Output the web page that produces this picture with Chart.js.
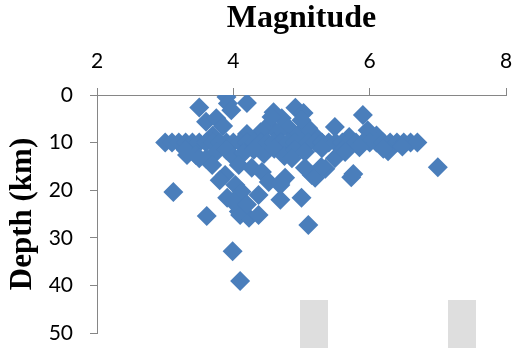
<!DOCTYPE html>
<html>
<head>
<meta charset="utf-8">
<script src="https://cdn.jsdelivr.net/npm/chart.js@4/dist/chart.umd.min.js"></script>
<style>
  html, body { margin: 0; padding: 0; background: #fff; }
  #wrap { width: 516px; height: 348px; position: relative; }
</style>
</head>
<body>
<div id="wrap"><canvas id="c" width="516" height="348"></canvas></div>
<script>
// Earthquake catalogue: magnitude vs. focal depth (km)
const magnitude = [
  // shallow events above the 10 km band
  3.90, 3.92, 3.97, 3.50, 4.20, 3.60, 3.75, 3.85, 4.59, 4.71, 4.91, 5.03, 4.81,
  4.52, 4.40, 5.49, 5.90, 5.97, 4.20, 3.70, 4.95, 5.20, 5.70, 6.10, 4.65, 5.10,
  4.56, 5.00,
  // events fixed at 10 km
  3.0, 3.1, 3.2, 3.3, 3.4, 3.5, 3.6, 3.7, 3.8, 3.9, 4.0, 4.1, 4.2, 4.3, 4.4,
  4.5, 4.6, 4.7, 4.8, 4.9, 5.0, 5.1, 5.2, 5.3, 5.4, 5.5, 5.6, 5.7, 5.8, 5.9,
  6.0, 6.1, 6.2, 6.3, 6.4, 6.5, 6.6, 6.7,
  // events just below the band
  3.30, 3.45, 3.60, 3.75, 3.90, 4.00, 4.15, 4.30, 4.45, 4.60, 4.75, 4.90, 5.05,
  5.30, 5.60, 5.85, 6.27, 6.48, 6.20, 5.49, 5.64, 4.86, 3.50, 3.69, 4.08, 4.27,
  3.88, 4.42, 3.32,
  // deeper events
  7.00, 5.76, 5.73, 5.35, 5.15, 5.05, 5.20, 4.76, 4.52, 4.69, 3.80, 4.03, 3.91,
  4.12, 4.37, 4.69, 5.00, 3.12, 3.61, 4.10, 4.23, 4.37, 4.08, 5.10, 3.99, 4.10,
  4.00, 4.20, 5.29, 4.69
];
const depthKm = [
  0.4, 1.8, 3.2, 2.6, 1.7, 5.6, 4.9, 6.5, 3.6, 4.9, 2.7, 3.8, 6.9,
  6.3, 7.8, 6.7, 4.2, 7.4, 8.2, 8.5, 8.4, 8.6, 8.8, 8.5, 8.0, 7.0,
  4.6, 5.3,
  10, 10, 10, 10, 10, 10, 10, 10, 10, 10, 10, 10, 10, 10, 10,
  10, 10, 10, 10, 10, 10, 10, 10, 10, 10, 10, 10, 10, 10, 10,
  10, 10, 10, 10, 10, 10, 10, 10,
  11.5, 12.6, 13.4, 12.0, 11.6, 13.0, 12.2, 11.5, 12.4, 11.3, 12.8, 11.5, 12.0,
  11.2, 11.5, 11.0, 11.8, 10.8, 11.3, 13.3, 12.0, 13.3, 13.3, 14.7, 14.7, 15.3,
  16.8, 16.2, 12.6,
  15.2, 16.6, 17.3, 15.5, 16.8, 15.3, 17.4, 17.4, 18.3, 18.9, 17.9, 18.9, 21.6,
  20.3, 21.0, 22.0, 21.6, 20.4, 25.4, 25.2, 25.8, 25.2, 24.5, 27.3, 32.8, 39.1,
  22.5, 23.0, 15.1, 18.5
];
const magnitudeTicks = [2, 4, 6, 8];
const depthTicks = [0, 10, 20, 30, 40, 50];

const points = magnitude.map((m, i) => ({ x: m, y: depthKm[i] }));

const AXIS_GREY = '#868686';
const MARKER = '#4A7EBB';

// light grey blocks along the bottom edge
const footerBlocks = {
  id: 'footerBlocks',
  afterDraw(chart) {
    const ctx = chart.ctx;
    ctx.save();
    ctx.fillStyle = '#dedede';
    ctx.fillRect(300, 300, 28, 48);
    ctx.fillRect(448, 300, 28, 48);
    ctx.restore();
  }
};

new Chart(document.getElementById('c'), {
  type: 'scatter',
  data: {
    datasets: [{
      data: points,
      pointStyle: 'rectRot',
      pointRadius: 10,
      pointHoverRadius: 10,
      backgroundColor: MARKER,
      borderColor: MARKER,
      borderWidth: 0
    }]
  },
  options: {
    responsive: false,
    animation: false,
    events: [],
    layout: { padding: { top: 0, right: 7, bottom: 15, left: 0 } },
    plugins: { legend: { display: false }, tooltip: { enabled: false } },
    scales: {
      x: {
        type: 'linear',
        position: 'top',
        min: magnitudeTicks[0],
        max: magnitudeTicks[magnitudeTicks.length - 1],
        afterBuildTicks(scale) { scale.ticks = magnitudeTicks.map(v => ({ value: v })); },
        afterFit(scale) {
          scale.height = 95;
          scale.paddingLeft = 0;
          scale.paddingRight = 0;
        },
        grid: { drawOnChartArea: false, drawTicks: true, tickLength: 7, color: AXIS_GREY, lineWidth: 1 },
        border: { display: true, color: AXIS_GREY, width: 1 },
        ticks: { color: '#000', padding: 14, font: { family: 'Lato', size: 21 } },
        title: {
          display: true,
          text: 'Magnitude',
          color: '#000',
          padding: { top: 0, bottom: 4 },
          font: { family: 'Liberation Serif', size: 32, weight: 'bold' }
        }
      },
      y: {
        type: 'linear',
        reverse: true,
        min: depthTicks[0],
        max: depthTicks[depthTicks.length - 1],
        afterBuildTicks(scale) { scale.ticks = depthTicks.map(v => ({ value: v })); },
        afterFit(scale) {
          scale.width = 97;
          scale.paddingTop = 0;
          scale.paddingBottom = 0;
        },
        grid: { drawOnChartArea: false, drawTicks: true, tickLength: 7, color: AXIS_GREY, lineWidth: 1 },
        border: { display: true, color: AXIS_GREY, width: 1 },
        ticks: { color: '#000', padding: 17, font: { family: 'Lato', size: 21 } },
        title: {
          display: true,
          text: 'Depth (km)',
          color: '#000',
          padding: { top: 4, bottom: 0 },
          font: { family: 'Liberation Serif', size: 31, weight: 'bold' }
        }
      }
    }
  },
  plugins: [footerBlocks]
});
</script>
</body>
</html>
